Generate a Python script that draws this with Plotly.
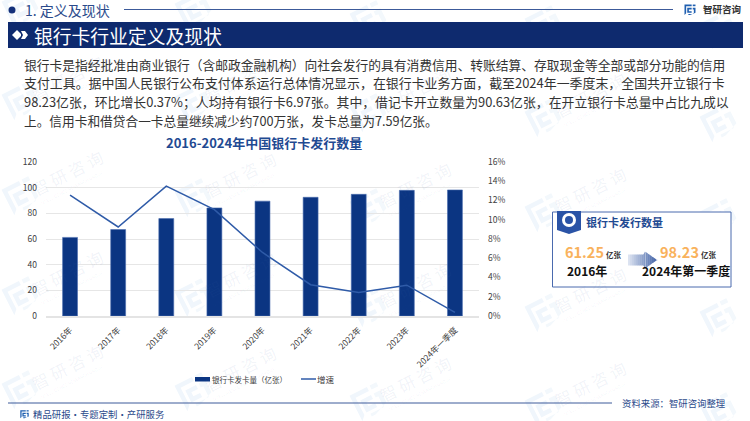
import math
import plotly.graph_objects as go

W, H = 750, 421
FONT = "Noto Sans CJK SC"

categories = ["2016年", "2017年", "2018年", "2019年", "2020年", "2021年", "2022年", "2023年", "2024年一季度"]
card_counts = [61.25, 67.4, 75.9, 84.2, 89.5, 92.5, 94.8, 97.9, 98.23]
growth_pct = [12.55, 9.25, 13.5, 11.05, 6.6, 3.25, 2.45, 3.2, 0.37]
y_left_ticks = [0, 20, 40, 60, 80, 100, 120]
y_right_ticks = [0, 2, 4, 6, 8, 10, 12, 14, 16]
y_right_labels = ["0%", "2%", "4%", "6%", "8%", "10%", "12%", "14%", "16%"]

series_bar = "银行卡发卡量（亿张）"
series_line = "增速"
chart_title = "2016-2024年中国银行卡发行数量"
body_lines = [
    "银行卡是指经批准由商业银行（含邮政金融机构）向社会发行的具有消费信用、转账结算、存取现金等全部或部分功能的信用",
    "支付工具。据中国人民银行公布支付体系运行总体情况显示，在银行卡业务方面，截至2024年一季度末，全国共开立银行卡",
    "98.23亿张，环比增长0.37%；人均持有银行卡6.97张。其中，借记卡开立数量为90.63亿张，在开立银行卡总量中占比九成以",
    "上。信用卡和借贷合一卡总量继续减少约700万张，发卡总量为7.59亿张。",
]
body_sizes = [12.75, 12.93, 12.86, 12.7]

NAVY = "#0B3582"
DARK = "#0E2A6E"
LINE = "#2F5BA8"


def px(x):
    return x / W


def py(y):
    return 1 - y / H


shapes, annos = [], []


def text(x, y, s, size, color="#3A3A3A", anchor="left", bold=False, angle=0):
    t = f"<b>{s}</b>" if bold else s
    annos.append(dict(x=px(x), y=py(y), xref="paper", yref="paper", text=t, showarrow=False,
                      xanchor=anchor, yanchor="middle", textangle=angle,
                      font=dict(family=FONT, size=size, color=color), borderpad=0, borderwidth=0))


def rect(x0, y0, x1, y1, fill=None, line=None, lw=1, layer="above"):
    shapes.append(dict(type="rect", xref="paper", yref="paper", x0=px(x0), x1=px(x1), y0=py(y0), y1=py(y1),
                       fillcolor=fill or "rgba(0,0,0,0)",
                       line=dict(color=line or "rgba(0,0,0,0)", width=lw if line else 0), layer=layer))


def poly(points, fill, layer="above"):
    d = "M" + " L".join(f"{px(x):.5f},{py(y):.5f}" for x, y in points) + " Z"
    shapes.append(dict(type="path", xref="paper", yref="paper", path=d, fillcolor=fill,
                       line=dict(width=0), layer=layer))


def hline(x0, x1, y, color, lw=1):
    shapes.append(dict(type="line", xref="paper", yref="paper", x0=px(x0), x1=px(x1), y0=py(y), y1=py(y),
                       line=dict(color=color, width=lw), layer="above"))


def logo(cx, cy, s, angle, c1, c2, layer):
    ca, sa = math.cos(math.radians(angle)), math.sin(math.radians(angle))

    def tr(pts):
        return [(cx + s * (x * ca - y * sa), cy + s * (x * sa + y * ca)) for x, y in pts]

    poly(tr([(-10, -9), (3, -9), (3, -6), (-7, -6), (-7, 7), (-10, 10)]), c1, layer)
    poly(tr([(-5, -3), (3, -3), (3, 0), (-2, 0), (-2, 3), (3, 3), (3, 6), (-5, 6)]), c1, layer)
    poly(tr([(5, -9), (10, -9), (10, -6), (5, -6)]), c2, layer)
    poly(tr([(5, -3), (10, -3), (10, 6), (0, 10), (-3, 10), (-3, 8), (7, 8), (7, 0), (5, 0)]), c2, layer)


# ---------- watermark ----------
WM_TXT = "rgba(70,110,170,0.08)"
WM_LOGO = "#F0F6FC"
WM_LOGO2 = "#F3F8FC"
col_x = [67, 240, 415, 590, 765]
col_dy = [0, 2, 12, 17, 22]
for bx, dy in zip(col_x, col_dy):
    for by in [-15, 78, 173, 273, 367]:
        b = by + dy
        logo(bx - 46, b + 22, 1.5, -27, WM_LOGO, WM_LOGO2, "below")
        if by > 0 and bx < 700:
            text(bx, b, "智 研 咨 询", 16.5, WM_TXT, "center", angle=-27)
            text(bx + 4, b + 15, "INTELLIGENCE RESEARCH GROUP", 4.5, WM_TXT, "center", angle=-27)

# ---------- header ----------
shapes.append(dict(type="circle", xref="paper", yref="paper", x0=px(8.5), x1=px(15.5), y0=py(13.5), y1=py(6.5),
                   fillcolor="#14307A", line=dict(width=0), layer="above"))
text(25, 10, "1. 定义及现状", 14, "#2B4A8B")
hline(124, 673, 9.5, "#3C5A9A", 1)
logo(690, 9.5, 0.55, 0, "#1F5FB0", "#1F5FB0", "above")
text(703, 9, "智研咨询", 9.5, "#333333", bold=True)

rect(8, 22, 743, 48, fill=DARK)
poly([(12, 35), (17, 30), (21, 34), (21, 36), (17, 40)], "#FFFFFF")
poly([(21, 31), (25, 31), (28, 35), (25, 39), (21, 39), (23, 35)], "#FFFFFF")
text(34, 35, "银行卡行业定义及现状", 18.8, "#FFFFFF")

# ---------- body text ----------
for ln, y, fs in zip(body_lines, [64, 82.5, 101, 120], body_sizes):
    text(24, y, ln, fs, "#333333")

text(263.5, 142, chart_title, 13, "#1F4A92", "center", bold=True)

# ---------- side panel ----------
rect(552.5, 212, 731, 287, fill="#FFFFFF", line="#4A6AAE", lw=1)
poly([(557, 211), (581, 211), (581, 230), (569, 234), (557, 230)], "#2A53A6")
shapes.append(dict(type="circle", xref="paper", yref="paper", x0=px(562), x1=px(576), y0=py(227), y1=py(213),
                   fillcolor="#FFFFFF", line=dict(width=0), layer="above"))
shapes.append(dict(type="circle", xref="paper", yref="paper", x0=px(565), x1=px(573), y0=py(224), y1=py(216),
                   fillcolor="#2A53A6", line=dict(width=0), layer="above"))
text(586, 222, "银行卡发行数量", 11, "#1F4A92", bold=True)
text(565, 251, "61.25", 14.5, "#F9B25C", bold=True)
text(606, 254, "亿张", 7.5, "#333333", bold=True)
text(660, 251, "98.23", 14.5, "#F9B25C", bold=True)
text(701, 254, "亿张", 7.5, "#333333", bold=True)
text(567, 270, "2016年", 12, "#111111", bold=True)
text(642, 270, "2024年第一季度", 12, "#111111", bold=True)

# gradient arrow drawn as thin slices
c0, c1 = (226, 232, 244), (60, 94, 164)
ax0, ax1, hx = 628, 657, 645
n = 15


def half(x):
    return 5.5 if x < hx else 8.5 * (ax1 - x) / (ax1 - hx)


for i in range(n):
    xa = ax0 + (ax1 - ax0) * i / n
    xb = ax0 + (ax1 - ax0) * (i + 1) / n + 0.3
    t = (i + 0.5) / n
    col = "rgb(%d,%d,%d)" % tuple(round(a + (b - a) * t) for a, b in zip(c0, c1))
    if xa < hx < xb:
        xb = hx + 0.01
    poly([(xa, 260 - half(xa)), (xb, 260 - half(xb)), (xb, 260 + half(xb)), (xa, 260 + half(xa))], col)

# ---------- legend key ----------
rect(195, 377, 210, 381.5, fill=NAVY)
text(212, 379, series_bar, 7.5, "#404040")
hline(301, 316, 379, LINE, 1.5)
text(317, 379, series_line, 8.5, "#404040")

# ---------- footer ----------
hline(8, 612, 403, "#3C5A9A", 1)
logo(24.5, 414, 0.42, 0, "#1F5FB0", "#1F5FB0", "above")
text(33, 414, "精品研报・专题定制・产研服务", 9.4, "#2B4A8B")
text(622, 403, "资料来源：智研咨询整理", 9.4, "#2B4A8B")

# ---------- chart ----------
fig = go.Figure()
fig.add_trace(go.Bar(x=categories, y=card_counts, name=series_bar, yaxis="y",
                     marker=dict(color=NAVY, line=dict(color="#4A6CAE", width=0.6))))
fig.add_trace(go.Scatter(x=categories, y=growth_pct, name=series_line, yaxis="y2", mode="lines",
                         line=dict(color=LINE, width=1.5)))

tick_font = dict(family=FONT, size=8.5, color="#404040")
fig.update_layout(
    width=W, height=H, margin=dict(l=0, r=0, t=0, b=0, pad=0, autoexpand=False), autosize=False,
    paper_bgcolor="#FFFFFF", plot_bgcolor="rgba(0,0,0,0)", bargap=0.69, showlegend=False,
    font=dict(family=FONT),
    xaxis=dict(domain=[px(46), px(479)], tickangle=-45, tickfont=tick_font, showgrid=False,
               showline=True, linecolor="#E4E4E4", linewidth=1.5, ticks="", ticklabelstandoff=4),
    yaxis=dict(domain=[py(316), py(162)], range=[0, 120], tickvals=y_left_ticks, tickfont=tick_font,
               gridcolor="#E6E6E6", gridwidth=1.3, zeroline=False, ticks="", ticklabelstandoff=8),
    yaxis2=dict(domain=[py(316), py(162)], range=[0, 16], tickvals=y_right_ticks, ticktext=y_right_labels,
                tickfont=tick_font, overlaying="y", side="right", showgrid=False, zeroline=False,
                anchor="x", ticks="", ticklabelstandoff=8),
    shapes=shapes, annotations=annos,
)
fig.write_html("out.html", post_script="document.body.style.margin='0';",
               config=dict(displayModeBar=False))
